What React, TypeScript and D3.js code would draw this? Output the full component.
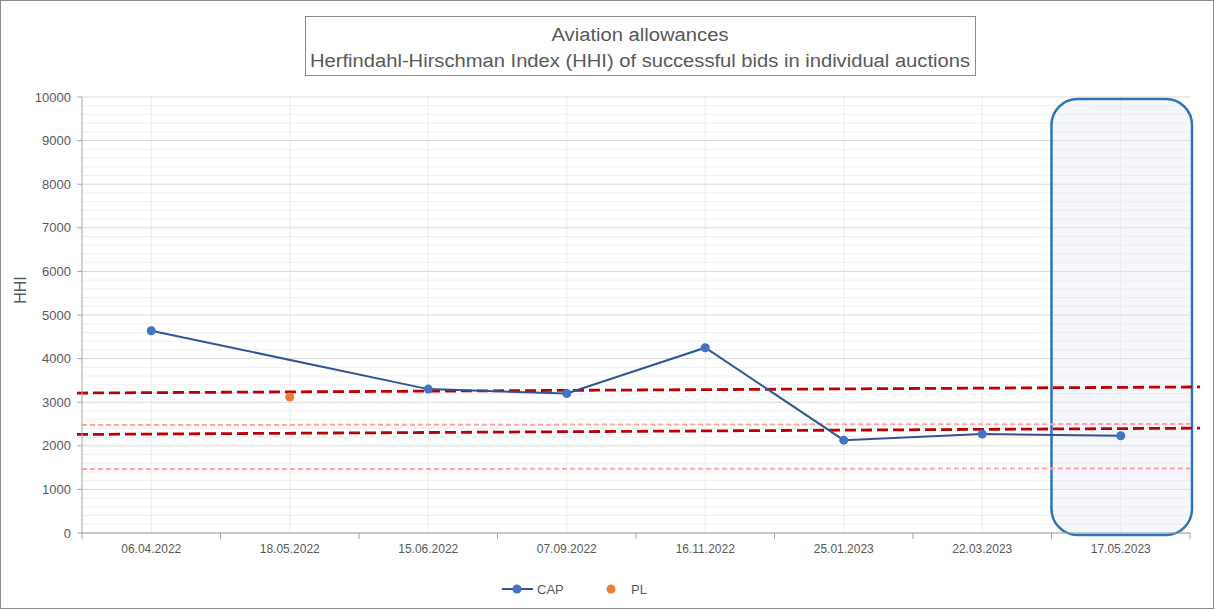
import * as d3 from "d3";

const dates = ["06.04.2022", "18.05.2022", "15.06.2022", "07.09.2022", "16.11.2022", "25.01.2023", "22.03.2023", "17.05.2023"];
const capValues: (number | null)[] = [4640, null, 3300, 3200, 4250, 2130, 2270, 2230];
const plValues: (number | null)[] = [null, 3120, null, null, null, null, null, null];
// dashed reference lines, [start, end] values
const darkUpper = [3210, 3350];
const darkLower = [2260, 2405];
const lightUpper = [2475, 2500];
const lightLower = [1465, 1480];
const yTicks = [0, 1000, 2000, 3000, 4000, 5000, 6000, 7000, 8000, 9000, 10000];
const highlighted = "17.05.2023";

const W = 1215, H = 610;
const m = { left: 82, right: 1190, top: 97, bottom: 533 };
const font = "'Liberation Sans', Arial, sans-serif";
const grey = "#595959";

export default function App() {
  const x = d3.scaleBand().domain(dates).range([m.left, m.right]);
  const y = d3.scaleLinear().domain([0, 10000]).range([m.bottom, m.top]);
  const cx = (d: string) => (x(d) ?? 0) + x.bandwidth() / 2;
  const minor = d3.range(0, 10001, 200).filter(v => v % 1000 !== 0);

  const capPts = dates.map((d, i) => ({ d, v: capValues[i] })).filter(p => p.v != null) as { d: string; v: number }[];
  const line = d3.line<{ d: string; v: number }>().x(p => cx(p.d)).y(p => y(p.v));

  const hx = x(highlighted) ?? 0;
  const dash = (vals: number[], x0: number, x1: number, color: string, w: number, da: string) => (
    <line x1={x0} x2={x1} y1={y(vals[0])} y2={y(vals[1])} stroke={color} strokeWidth={w} strokeDasharray={da} />
  );

  return (
    <svg width={W} height={H} style={{ position: "absolute", left: 0, top: 0, background: "#fff" }} fontFamily={font}>
      <rect x={0.5} y={0.5} width={W - 2} height={H - 2} fill="#fff" stroke="#8c8c8c" />
      {/* grid */}
      {minor.map(v => <line key={"m" + v} x1={m.left} x2={m.right} y1={y(v)} y2={y(v)} stroke="#f0f0f0" />)}
      {dates.map(d => <line key={"v" + d} x1={cx(d)} x2={cx(d)} y1={m.top} y2={m.bottom} stroke="#ececec" />)}
      {yTicks.map(v => <line key={"g" + v} x1={m.left} x2={m.right} y1={y(v)} y2={y(v)} stroke="#d9d9d9" />)}

      {/* highlight box */}
      <rect x={hx} y={m.top + 2} width={x.bandwidth() + 2} height={m.bottom - m.top} rx={26} fill="#e3e9f5" fillOpacity={0.35} stroke="#2e75b6" strokeWidth={2.5} />

      {/* reference lines */}
      {dash(lightUpper, m.left, m.right, "#ffa3a3", 2, "5,3")}
      {dash(lightLower, m.left, m.right, "#ffa3a3", 2, "5,3")}
      {dash(darkUpper, m.left - 5, m.right + 10, "#c00000", 2.8, "11,5")}
      {dash(darkLower, m.left - 5, m.right + 10, "#c00000", 2.8, "11,5")}

      {/* axes */}
      <line x1={m.left} x2={m.left} y1={m.top} y2={m.bottom} stroke="#a6a6a6" />
      <line x1={m.left} x2={m.right} y1={m.bottom} y2={m.bottom} stroke="#a6a6a6" />
      {yTicks.map(v => (
        <g key={"t" + v}>
          <line x1={m.left - 5} x2={m.left} y1={y(v)} y2={y(v)} stroke="#a6a6a6" />
          <text x={m.left - 11} y={y(v) + 4.5} textAnchor="end" fontSize={13} fill={grey}>{v}</text>
        </g>
      ))}
      {[...dates.map(d => x(d) ?? 0), m.right].map((t, i) => (
        <line key={"xt" + i} x1={t} x2={t} y1={m.bottom} y2={m.bottom + 6} stroke="#a6a6a6" />
      ))}
      {dates.map(d => (
        <text key={"xl" + d} x={cx(d)} y={553} textAnchor="middle" fontSize={12} fill={grey}>{d}</text>
      ))}
      <text transform={`translate(26,${y(5000) - 25}) rotate(-90)`} textAnchor="middle" fontSize={16} fill={grey}>HHI</text>

      {/* series */}
      <path d={line(capPts) ?? ""} fill="none" stroke="#2f5597" strokeWidth={2} />
      {capPts.map(p => <circle key={"c" + p.d} cx={cx(p.d)} cy={y(p.v)} r={4.5} fill="#4472c4" />)}
      {dates.map((d, i) => plValues[i] != null ? <circle key={"p" + d} cx={cx(d)} cy={y(plValues[i] as number)} r={4.5} fill="#ed7d31" /> : null)}

      {/* title */}
      <rect x={305.5} y={16.5} width={670} height={59} fill="#fff" stroke="#8c8c8c" />
      <text x={640} y={41} textAnchor="middle" fontSize={18} fill={grey} textLength={177} lengthAdjust="spacingAndGlyphs">Aviation allowances</text>
      <text x={640} y={67} textAnchor="middle" fontSize={18} fill={grey} textLength={660} lengthAdjust="spacingAndGlyphs">Herfindahl-Hirschman Index (HHI) of successful bids in individual auctions</text>

      {/* legend */}
      <line x1={502} x2={533} y1={589} y2={589} stroke="#2f5597" strokeWidth={2} />
      <circle cx={517} cy={589} r={4.5} fill="#4472c4" />
      <text x={537} y={594} fontSize={13} fill={grey}>CAP</text>
      <circle cx={611} cy={589} r={4.5} fill="#ed7d31" />
      <text x={631} y={594} fontSize={13} fill={grey}>PL</text>
    </svg>
  );
}
